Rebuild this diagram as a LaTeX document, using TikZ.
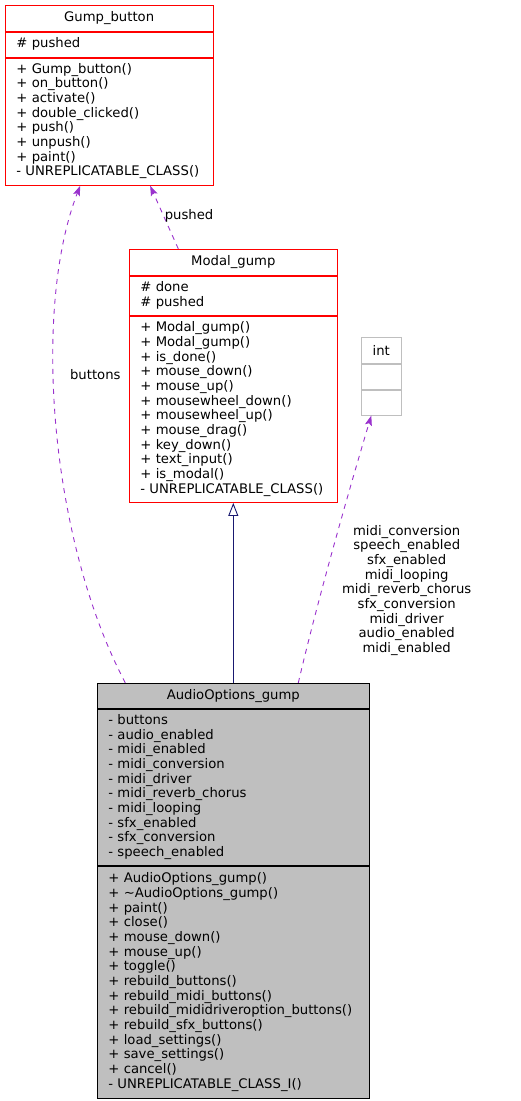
\documentclass[tikz,border=0pt]{standalone}
\usepackage{fontspec}
\setmainfont{DejaVu Sans}
\usetikzlibrary{arrows.meta}
\definecolor{orchid}{HTML}{9A32CD}
\definecolor{midblue}{HTML}{191970}
\definecolor{boxgray}{HTML}{BFBFBF}
\def\umlfont{\fontsize{13.2pt}{14.67pt}\selectfont}
\tikzset{
	umltitle/.style={draw=red, line width=0.9pt, minimum width=#1, minimum height=26pt, inner sep=0pt, font=\umlfont},
	umlpart/.style={draw=red, line width=0.9pt, text width=#1, inner xsep=11pt, inner ysep=5pt, anchor=north, align=left, font=\umlfont, execute at begin node=\strut, execute at end node=\strut},
	umluse/.style={draw=orchid, line width=0.9pt, dash pattern=on 5pt off 5pt, -{Stealth[length=10pt, width=7pt, inset=2pt]}},
	umlbase/.style={draw=midblue, line width=0.9pt, -{Triangle[open, length=13pt, width=10pt, fill=white]}},
	umllabel/.style={font=\umlfont, align=center, inner sep=0pt},
}

\begin{document}
\begin{tikzpicture}[x=1pt, y=1pt]
			%%%%% START %%%%%
			\useasboundingbox (0, 0) rectangle (520, -1101);
			
			\node[umltitle=207.7pt] (gump) at (109.15, -18.5) {Gump\_button};
			\node[umlpart=185.7pt] (gumpattr) at (gump.south) {\# pushed};
			\node[umlpart=185.7pt] (gumpops) at (gumpattr.south) {+ Gump\_button()\\+ on\_button()\\+ activate()\\+ double\_clicked()\\+ push()\\+ unpush()\\+ paint()\\- UNREPLICATABLE\_CLASS()};
			
			\node[umltitle=208pt] (modal) at (233.3, -262.3) {Modal\_gump};
			\node[umlpart=186pt] (modalattr) at (modal.south) {\# done\\\# pushed};
			\node[umlpart=186pt] (modalops) at (modalattr.south) {+ Modal\_gump()\\+ Modal\_gump()\\+ is\_done()\\+ mouse\_down()\\+ mouse\_up()\\+ mousewheel\_down()\\+ mousewheel\_up()\\+ mouse\_drag()\\+ key\_down()\\+ text\_input()\\+ is\_modal()\\- UNREPLICATABLE\_CLASS()};
			
			\node[umltitle=40pt, draw=boxgray] (int) at (381.3, -350.3) {int};
			\node[umlpart=18pt, draw=boxgray, minimum height=25pt] (intattr) at (int.south) {};
			\node[umlpart=18pt, draw=boxgray, minimum height=25pt] (intops) at (intattr.south) {};
			
			\node[umltitle=272pt, draw=black, fill=boxgray, minimum height=25pt] (audio) at (233.3, -695.8) {AudioOptions\_gump};
			\node[umlpart=250pt, draw=black, fill=boxgray, minimum height=156.7pt] (audioattr) at (audio.south) {- buttons\\- audio\_enabled\\- midi\_enabled\\- midi\_conversion\\- midi\_driver\\- midi\_reverb\_chorus\\- midi\_looping\\- sfx\_enabled\\- sfx\_conversion\\- speech\_enabled};
			\node[umlpart=250pt, draw=black, fill=boxgray, minimum height=231.7pt] (audioops) at (audioattr.south) {+ AudioOptions\_gump()\\+ \textasciitilde AudioOptions\_gump()\\+ paint()\\+ close()\\+ mouse\_down()\\+ mouse\_up()\\+ toggle()\\+ rebuild\_buttons()\\+ rebuild\_midi\_buttons()\\+ rebuild\_mididriveroption\_buttons()\\+ rebuild\_sfx\_buttons()\\+ load\_settings()\\+ save\_settings()\\+ cancel()\\- UNREPLICATABLE\_CLASS\_I()};
			
			\draw[umlbase] (audio.north) -- (modalops.south);
			\draw[umluse] ([xshift=-108pt]audio.north) .. controls (50, -540) and (32, -310) .. ([xshift=-29pt]gumpops.south);
			\draw[umluse] ([xshift=-55pt]modal.north) -- ([xshift=41pt]gumpops.south);
			\draw[umluse] ([xshift=65pt]audio.north) .. controls (320, -590) and (355, -470) .. ([xshift=-10pt]intops.south);
			
			\node[umllabel] (lblbuttons) at (95.3, -374.3) {buttons};
			\node[umllabel] (lblpushed) at (189, -216) {pushed};
			\node[umllabel] (lblint) at (406.7, -590.5) {midi\_conversion\\speech\_enabled\\sfx\_enabled\\midi\_looping\\midi\_reverb\_chorus\\sfx\_conversion\\midi\_driver\\audio\_enabled\\midi\_enabled};
			
			%%%%% END %%%%%
\end{tikzpicture}
\end{document}
